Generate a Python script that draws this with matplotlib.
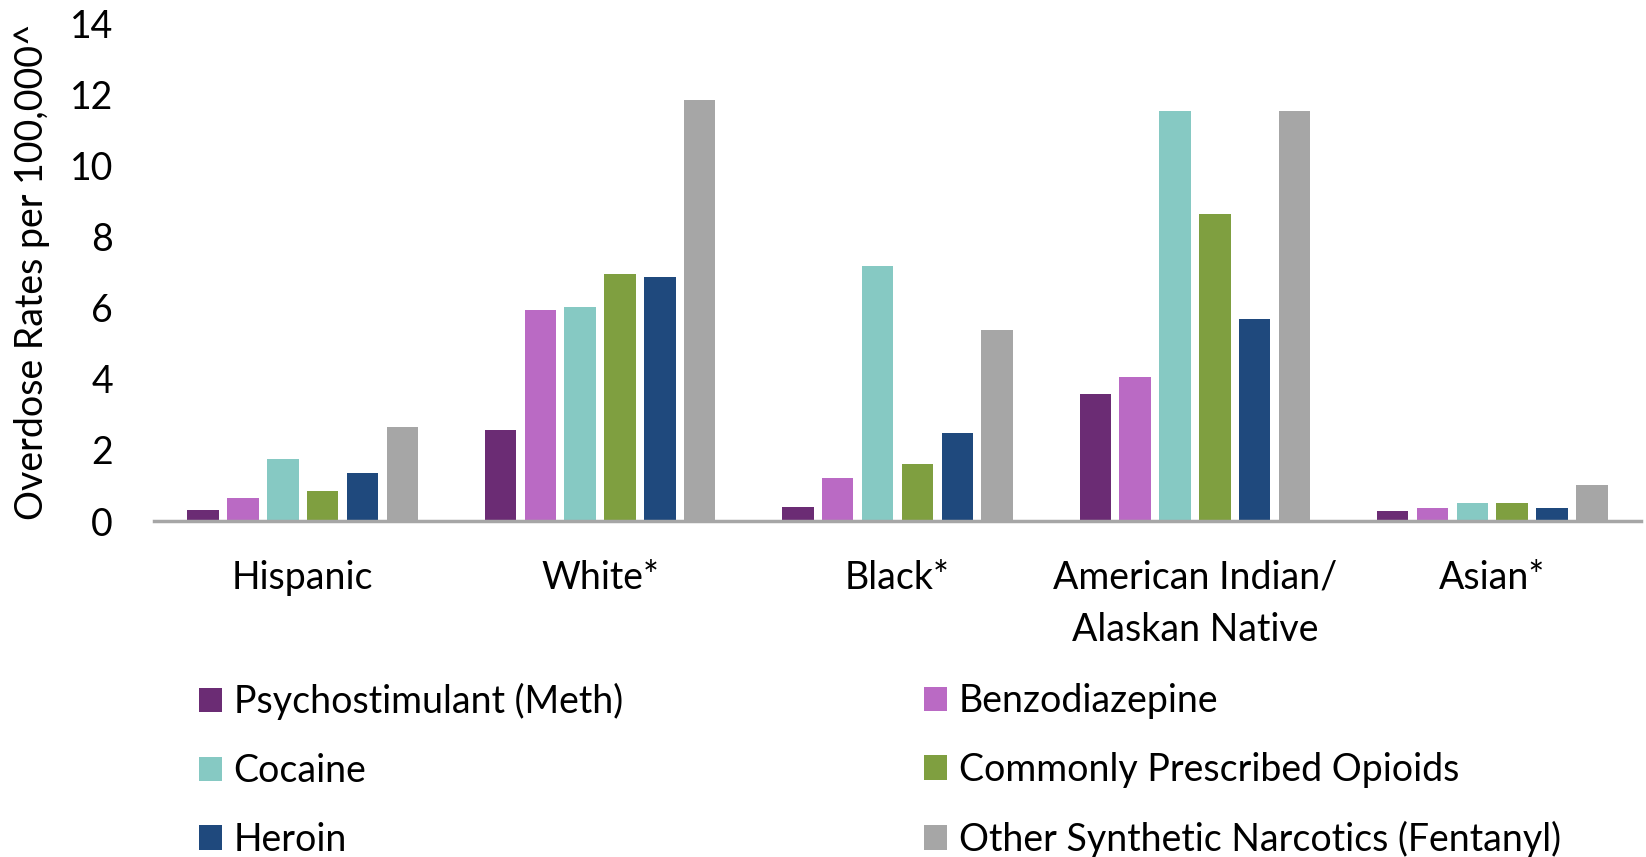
import matplotlib
matplotlib.use("Agg")
import matplotlib.pyplot as plt
import numpy as np

plt.rcParams['font.family'] = ['Lato', 'DejaVu Sans']

categories = ["Hispanic", "White*", "Black*", "American Indian/\nAlaskan Native", "Asian*"]
series_names = ["Psychostimulant (Meth)", "Benzodiazepine", "Cocaine",
                "Commonly Prescribed Opioids", "Heroin", "Other Synthetic Narcotics (Fentanyl)"]
meth = [0.32, 2.56, 0.38, 3.58, 0.29]
benzo = [0.64, 5.92, 1.22, 4.04, 0.36]
cocaine = [1.75, 6.01, 7.16, 11.54, 0.52]
opioids = [0.85, 6.94, 1.61, 8.63, 0.52]
heroin = [1.36, 6.86, 2.47, 5.69, 0.36]
fentanyl = [2.64, 11.84, 5.37, 11.54, 1.02]
series_values = [meth, benzo, cocaine, opioids, heroin, fentanyl]
colors = ["#6B2C74", "#BA6AC4", "#86C9C3", "#7F9F40", "#1F497D", "#A6A6A6"]
yticks = [0, 2, 4, 6, 8, 10, 12, 14]

FS = 27
W, H = 1646, 857
fig = plt.figure(figsize=(W / 100, H / 100), dpi=100)
ax = fig.add_axes([154 / W, (H - 521) / H, (1641 - 154) / W, (521 - 23) / H])

x = np.arange(len(categories))
pitch = 0.134
width = 0.106
handles = []
for i, (vals, c, name) in enumerate(zip(series_values, colors, series_names)):
    b = ax.bar(x + (i - 2.5) * pitch, vals, width, color=c, label=name, zorder=2)
    handles.append(b)

ax.set_xlim(-0.5, len(categories) - 0.5)
ax.set_ylim(0, 14)
ax.set_yticks(yticks)
ax.set_yticklabels([str(t) for t in yticks], fontsize=FS)
ax.set_xticks(x)
ax.set_xticklabels(categories, fontsize=FS, linespacing=1.54)
ax.tick_params(axis='both', length=0)
ax.tick_params(axis='y', pad=29.5)
ax.tick_params(axis='x', pad=28)
for s in ['top', 'right', 'left']:
    ax.spines[s].set_visible(False)
ax.spines['bottom'].set_color('#A6A6A6')
ax.spines['bottom'].set_linewidth(2.5)
ax.set_ylabel("Overdose Rates per 100,000^", fontsize=FS)
ax.yaxis.set_label_coords(-0.070, 0.5)

leg_kw = dict(frameon=False, fontsize=FS, handlelength=0.62, handleheight=0.62,
              handletextpad=0.3, labelspacing=0.875, borderpad=0, borderaxespad=0)
l1 = fig.legend([handles[0], handles[2], handles[4]],
                [series_names[0], series_names[2], series_names[4]],
                loc='upper left', bbox_to_anchor=(199 / W, 1 - 683 / H), **leg_kw)
l2 = fig.legend([handles[1], handles[3], handles[5]],
                [series_names[1], series_names[3], series_names[5]],
                loc='upper left', bbox_to_anchor=(924 / W, 1 - 683 / H), **leg_kw)

fig.savefig("out.png", dpi=100)
